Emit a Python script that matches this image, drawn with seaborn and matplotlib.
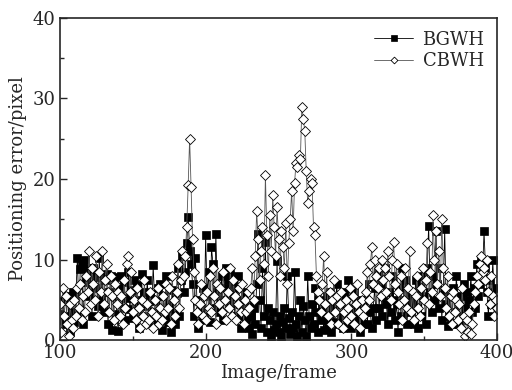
import numpy as np
import pandas as pd
import matplotlib
matplotlib.use("Agg")
import matplotlib.pyplot as plt
from matplotlib.ticker import MultipleLocator
import seaborn as sns

frames = list(range(100, 401))

bgwh = [
    3.2, 2.5, 4.8, 3.0, 2.0, 5.5, 2.8, 1.0, 3.5, 6.0,
    2.2, 5.8, 10.2, 3.5, 8.8, 9.5, 2.0, 10.0, 7.2, 9.0,
    5.5, 8.2, 3.0, 9.0, 6.5, 7.8, 4.2, 10.2, 5.0, 8.0,
    3.5, 7.5, 8.2, 2.0, 6.0, 8.0, 1.2, 5.5, 7.8, 3.2,
    1.1, 6.5, 8.0, 4.0, 7.2, 2.5, 5.2, 8.5, 3.8, 6.2,
    2.8, 7.5, 4.5, 6.8, 1.5, 5.0, 8.2, 3.0, 6.0, 4.2,
    7.5, 2.2, 5.5, 3.5, 9.3, 4.8, 2.0, 6.5, 3.2, 7.0,
    1.2, 5.5, 3.0, 8.0, 2.2, 4.5, 1.0, 6.2, 3.5, 2.0,
    5.8, 9.0, 3.0, 7.5, 10.5, 6.0, 8.5, 12.0, 15.3, 11.0,
    9.5, 7.0, 3.0, 10.2, 5.0, 1.5, 2.5, 4.0, 6.5, 3.0,
    13.0, 5.5, 8.5, 2.2, 11.5, 9.5, 4.0, 13.2, 6.0, 3.5,
    5.0, 8.0, 2.5, 6.5, 9.0, 7.5, 4.5, 8.2, 5.5, 7.0,
    3.0, 6.5, 8.0, 4.5, 1.5, 5.0, 3.0, 6.0, 2.0, 4.5,
    1.5, 3.0, 0.8, 4.0, 2.0, 7.0, 13.2, 5.0, 1.5, 9.0,
    3.0, 12.2, 1.0, 4.0, 2.5, 0.5, 3.5, 1.2, 2.0, 9.8,
    1.0, 3.0, 0.5, 2.2, 4.0, 1.5, 8.0, 2.8, 0.8, 3.5,
    1.5, 8.5, 2.0, 0.5, 3.0, 5.0, 1.0, 4.2, 2.5, 0.5,
    8.0, 3.0, 1.5, 4.5, 2.0, 6.5, 3.5, 1.0, 5.0, 2.5,
    4.0, 1.2, 3.0, 5.5, 2.0, 6.0, 1.0, 3.8, 2.2, 4.5,
    7.0, 2.0, 5.5, 3.0, 1.5, 6.0, 4.0, 2.5, 7.5, 3.5,
    1.5, 4.0, 6.0, 2.5, 5.0, 3.0, 1.0, 4.5, 2.0, 3.5,
    5.0, 2.0, 7.0, 3.5, 1.5, 4.0, 6.5, 2.5, 8.5, 4.0,
    7.0, 3.0, 5.5, 9.0, 4.5, 2.0, 6.0, 3.5, 8.0, 5.0,
    2.5, 4.5, 1.0, 6.5, 3.0, 9.0, 5.0, 7.5, 2.0, 4.0,
    6.0, 3.5, 5.0, 2.0, 7.5, 4.0, 1.5, 6.5, 3.0, 8.0,
    5.5, 2.0, 9.0, 14.2, 6.0, 3.5, 8.0, 5.0, 13.5, 7.0,
    4.0, 9.0, 2.5, 6.0, 13.8, 4.5, 1.8, 3.0, 5.5, 2.0,
    6.5, 3.5, 8.0, 4.5, 2.0, 5.5, 3.0, 7.0, 4.0, 6.0,
    2.5, 5.0, 8.0, 3.5, 6.5, 4.0, 9.5, 5.5, 7.0, 10.0,
    8.5, 13.5, 9.0, 6.0, 3.0, 7.5, 4.5, 10.0, 5.0, 6.5,
    4.5,
]

cbwh = [
    4.5, 1.0, 6.5, 3.0, 5.5, 2.0, 0.5, 4.5, 2.5, 1.5,
    5.0, 3.0, 6.5, 4.0, 7.0, 2.5, 5.5, 3.5, 8.0, 6.0,
    11.0, 4.5, 9.0, 7.0, 5.0, 10.5, 3.0, 8.5, 6.0, 11.0,
    4.5, 7.5, 9.5, 6.0, 3.5, 8.0, 5.5, 2.5, 7.0, 4.5,
    6.0, 3.0, 5.5, 2.0, 7.5, 4.0, 9.5, 10.5, 6.0, 8.5,
    3.5, 5.0, 2.5, 6.5, 4.0, 1.5, 5.0, 3.0, 7.5, 2.0,
    4.5, 2.5, 6.0, 3.5, 1.5, 5.0, 3.0, 6.5, 2.0, 4.0,
    2.5, 5.5, 3.5, 7.0, 4.0, 6.5, 2.0, 8.0, 5.0, 3.0,
    6.0, 9.5, 4.0, 7.5, 11.0, 8.0, 10.5, 14.0, 19.2, 25.0,
    19.0, 12.5, 8.5, 5.0, 3.5, 2.0, 4.5, 7.0, 3.0, 5.5,
    2.5, 6.0, 4.0, 8.0, 3.5, 9.0, 5.5, 2.0, 7.0, 4.5,
    6.5, 3.5, 8.5, 5.0, 2.5, 6.0, 4.0, 9.0, 3.0, 7.5,
    5.5, 2.5, 4.5, 6.5, 3.5, 7.0, 2.0, 5.0, 3.5, 6.0,
    4.0, 6.5, 9.0, 5.0, 10.5, 16.0, 12.5, 7.5, 11.0, 14.0,
    9.5, 20.5, 13.0, 8.0, 15.5, 11.0, 18.0, 14.0, 10.5, 16.5,
    12.5, 8.0, 13.5, 11.5, 9.0, 14.5, 7.0, 12.0, 15.0, 18.5,
    13.5, 19.5, 22.0, 21.5, 23.0, 22.5, 29.0, 27.5, 26.0, 21.0,
    17.0, 18.5, 20.0, 19.5, 14.0, 13.0, 8.0, 6.0, 5.0, 3.5,
    7.0, 10.5, 4.5, 8.5, 3.0, 6.0, 2.0, 5.0, 7.5, 3.5,
    5.5, 2.0, 4.5, 6.0, 1.5, 3.5, 5.0, 2.5, 4.0, 6.5,
    3.0, 5.5, 2.0, 4.5, 7.0, 3.5, 1.5, 5.0, 3.0, 4.0,
    6.0, 8.5, 5.0, 9.5, 11.5, 7.0, 10.0, 8.0, 6.5, 9.0,
    5.5, 10.0, 7.5, 9.0, 6.0, 11.0, 8.0, 5.0, 10.0, 12.2,
    7.0, 9.5, 6.0, 4.5, 8.0, 2.5, 5.0, 9.0, 4.0, 6.5,
    11.0, 3.5, 6.0, 2.5, 5.5, 8.0, 4.0, 3.0, 6.5, 9.0,
    5.0, 7.5, 12.0, 4.5, 8.5, 6.0, 15.5, 10.0, 13.5, 7.0,
    11.0, 5.5, 15.0, 9.0, 6.5, 4.0, 8.0, 3.0, 5.5, 2.0,
    6.0, 3.5, 5.0, 2.5, 4.5, 1.5, 6.5, 3.0, 0.5, 2.5,
    1.0, 3.5, 0.8, 2.0, 4.5, 6.0, 8.0, 7.0, 9.5, 10.5,
    8.5, 9.0, 7.5, 10.0, 6.0, 4.5, 8.0, 5.5, 3.0, 5.0,
    4.0,
]

series_names = ["BGWH", "CBWH"]

df = pd.DataFrame({
    "frame": frames * 2,
    "err": bgwh + cbwh,
    "method": [series_names[0]] * len(frames) + [series_names[1]] * len(frames),
})

sns.set_style("ticks")
plt.rcParams["font.family"] = ["DejaVu Serif"]
plt.rcParams["mathtext.fontset"] = "dejavuserif"

fig = plt.figure(figsize=(5.12, 3.90), dpi=100)
ax = fig.add_axes([0.117, 0.128, 0.854, 0.826])

sns.lineplot(data=df[df.method == "BGWH"], x="frame", y="err", ax=ax,
             color="black", lw=0.6, marker="s", markersize=5.2,
             markerfacecolor="black", markeredgecolor="black",
             markeredgewidth=0.5, label="BGWH", sort=False)
sns.lineplot(data=df[df.method == "CBWH"], x="frame", y="err", ax=ax,
             color="#555555", lw=0.6, marker="D", markersize=4.6,
             markerfacecolor="white", markeredgecolor="black",
             markeredgewidth=0.6, label="CBWH", sort=False)

ax.set_xlim(100, 400)
ax.set_ylim(0, 40)
ax.xaxis.set_major_locator(MultipleLocator(100))
ax.xaxis.set_minor_locator(MultipleLocator(50))
ax.yaxis.set_major_locator(MultipleLocator(10))
ax.yaxis.set_minor_locator(MultipleLocator(5))
ax.tick_params(which="major", direction="in", length=5, width=1, labelsize=13,
               top=False, right=False, pad=3)
ax.tick_params(which="minor", direction="in", length=3, width=1,
               top=False, right=False)
for s in ax.spines.values():
    s.set_linewidth(1.2)
    s.set_visible(True)

ax.set_xlabel("Image/frame", fontsize=13, labelpad=1)
ax.set_ylabel("Positioning error/pixel", fontsize=13, labelpad=4)

leg = ax.legend(loc="upper right", frameon=False, fontsize=13,
                handlelength=2.2, handletextpad=0.5, labelspacing=0.2,
                borderaxespad=0.3, markerscale=0.75)

fig.savefig("out.png", dpi=100)
